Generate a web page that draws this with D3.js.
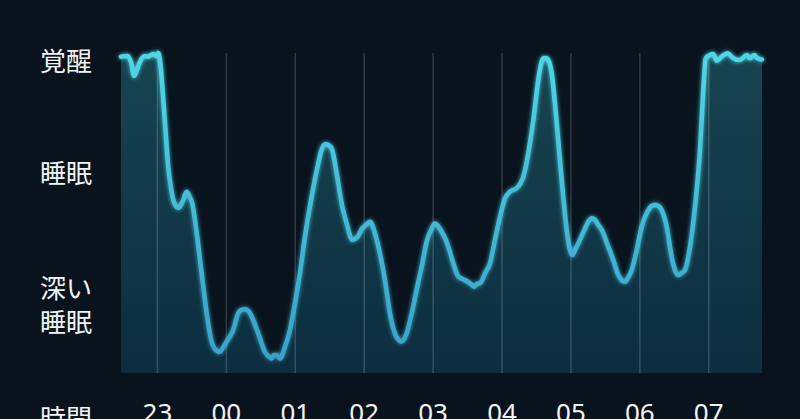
<!DOCTYPE html>
<html>
<head>
<meta charset="utf-8">
<script src="https://cdn.jsdelivr.net/npm/d3@7"></script>
<style>
  html, body { margin: 0; padding: 0; background: #08131d; overflow: hidden; }
  svg { display: block; }
</style>
</head>
<body>
<svg id="chart" width="800" height="419"></svg>
<script>
// Minutes after 22:00
const minutes = [28.7,34.7,37.4,40.2,42.6,45.2,49.6,52.4,54.8,56.8,59.1,61.1,63.5,65.2,67.0,69.8,72.2,74.2,76.5,78.5,80.9,82.9,85.9,88.3,90.7,94.6,98.9,103.3,107.6,110.5,114.9,117.4,120.7,126.4,130.8,133.6,136.6,139.7,142.5,148.2,154.0,156.7,159.9,161.9,164.2,167.1,171.5,175.8,180.2,184.5,188.9,194.7,200.5,203.2,206.3,209.3,212.1,216.5,220.8,225.2,230.1,232.4,234.7,238.7,241.9,245.5,249.8,254.1,258.5,262.9,267.2,269.8,272.5,274.6,277.4,281.8,286.1,290.5,294.8,299.2,302.1,304.7,307.9,310.8,313.7,318.0,322.4,325.6,328.2,332.6,336.3,338.7,341.3,345.7,350.0,354.3,358.7,363.0,367.4,373.2,376.1,379.0,383.3,387.7,392.0,394.4,396.4,398.7,400.8,403.7,408.1,412.4,416.8,419.2,421.7,424.0,426.9,432.7,435.8,438.6,441.4,444.3,447.3,453.0,457.4,461.7,464.5,467.5,470.1,473.4,477.7,482.1,487.8,490.6,493.6,496.7,499.4,503.8,508.1,511.0,513.9,516.7,519.7,524.1,528.5,532.8,535.7,537.8,541.5,544.4,547.3,551.7,556.9,561.8,567.6,573.5,576.3,580.1,582.4,586.8];
// Sleep level (0 = deepest, 100 = awake)
const levels = [99.8,100,98.1,93.7,95.6,98.2,100,99.8,100.3,100.6,100,101,95.6,87.7,78.9,65.1,58.4,54.6,52.7,52.1,53,54.6,57.2,55.8,53.6,44.2,31.5,18.9,9.9,7.6,6.7,7.9,9.9,13.6,18.9,19.9,20.1,19.6,17.8,12.5,6.7,5.4,4.6,5.7,5.7,4.6,8.3,13.6,22,31.5,43,55.6,66.2,70.3,72.2,71.9,70.9,63,53.5,47.2,42,42.3,43,45.6,46.7,47.7,44.1,37.8,29.3,18.8,12.5,10.7,9.9,10.4,12.5,18.8,26.2,33.5,41.4,45.6,47.2,46.4,44.6,42.6,39.8,34.6,30.4,29.7,29.3,28.3,27.2,28.1,28.3,31.5,34.6,42,49.3,55.1,57.2,58.3,59.6,61.9,69.3,79.8,92.4,97.5,99.3,99.4,98.7,94.5,78.8,60.9,45.1,39.4,37.2,38.8,40.9,45.6,47.9,48.8,48.3,46.7,45.1,39.8,35.6,30.9,29.3,28.8,30,32.5,38.8,46.2,51.4,52.7,53,52.7,51.4,46.2,36.7,32.5,30.9,31.5,32.5,39.8,52.5,70.3,89.3,99.3,100.3,100.6,98.5,99.8,100.9,99.3,98.7,100.3,99.3,100.3,99.4,98.9];

const stageLabels = [["覚醒"], ["睡眠"], ["深い", "睡眠"]];
const stageLevels = [99, 63.5, 22];
const tickHours = [23, 0, 1, 2, 3, 4, 5, 6, 7];
const axisTitle = "時間";

const base = new Date(2024, 0, 1, 22, 0, 0);
const toDate = m => new Date(base.getTime() + m * 60000);
const data = minutes.map((m, i) => ({ t: toDate(m), v: levels[i] }));

const svg = d3.select("#chart");
const W = 800, H = 419;
svg.append("rect").attr("width", W).attr("height", H).attr("fill", "#08131d");

const plotTop = 53, plotBottom = 373;
const x = d3.scaleTime()
  .domain([toDate(28.7), toDate(586.8)])
  .range([121, 762]);
const y = d3.scaleLinear().domain([0, 100]).range([373, 56]);

const defs = svg.append("defs");
const ag = defs.append("linearGradient").attr("id", "areaGrad")
  .attr("gradientUnits", "userSpaceOnUse")
  .attr("x1", 0).attr("x2", 0).attr("y1", plotTop).attr("y2", plotBottom);
ag.append("stop").attr("offset", "0%").attr("stop-color", "#17444f");
ag.append("stop").attr("offset", "100%").attr("stop-color", "#0c2d3e");

const lg = defs.append("linearGradient").attr("id", "lineGrad")
  .attr("gradientUnits", "userSpaceOnUse")
  .attr("x1", 0).attr("x2", 0).attr("y1", plotTop).attr("y2", plotBottom);
lg.append("stop").attr("offset", "0%").attr("stop-color", "#4fd6e6");
lg.append("stop").attr("offset", "100%").attr("stop-color", "#389fc6");

const glow = defs.append("filter").attr("id", "glow")
  .attr("x", "-10%").attr("y", "-10%").attr("width", "120%").attr("height", "120%");
glow.append("feGaussianBlur").attr("stdDeviation", 2.2).attr("result", "b");
const fm = glow.append("feMerge");
fm.append("feMergeNode").attr("in", "b");
fm.append("feMergeNode").attr("in", "SourceGraphic");

const area = d3.area()
  .x(d => x(d.t)).y0(plotBottom).y1(d => y(d.v))
  .curve(d3.curveMonotoneX);
const line = d3.line()
  .x(d => x(d.t)).y(d => y(d.v))
  .curve(d3.curveMonotoneX);

svg.append("path").datum(data).attr("d", area).attr("fill", "url(#areaGrad)");

// grid via axis
const tickDates = tickHours.map(h => new Date(2024, 0, h === 23 ? 1 : 2, h, 0, 0));
const axis = d3.axisBottom(x)
  .tickValues(tickDates)
  .tickFormat(d3.timeFormat("%H"))
  .tickSizeInner(-(plotBottom - plotTop))
  .tickSizeOuter(0)
  .tickPadding(0);
const ax = svg.append("g").attr("transform", `translate(0,${plotBottom})`).call(axis);
ax.select(".domain").remove();
ax.selectAll(".tick line")
  .attr("stroke", "#ffffff").attr("stroke-opacity", 0.17).attr("stroke-width", 1.5);
ax.selectAll(".tick text")
  .attr("y", 49).attr("dy", 0)
  .attr("fill", "#f2f4f5")
  .attr("font-family", "'Noto Sans', sans-serif")
  .attr("font-size", 26);

svg.append("path").datum(data).attr("d", line)
  .attr("fill", "none")
  .attr("stroke", "url(#lineGrad)")
  .attr("stroke-width", 4.5)
  .attr("stroke-linejoin", "round")
  .attr("stroke-linecap", "round")
  .attr("filter", "url(#glow)");

// stage labels
const lab = svg.append("g")
  .attr("fill", "#f2f4f5")
  .attr("font-family", "'Noto Sans CJK JP', sans-serif")
  .attr("font-size", 26);
stageLabels.forEach((lines, i) => {
  const cy = y(stageLevels[i]);
  const n = lines.length;
  lines.forEach((s, j) => {
    lab.append("text")
      .attr("x", 40)
      .attr("y", cy + (j - (n - 1) / 2) * 34)
      .attr("dominant-baseline", "central")
      .text(s);
  });
});
lab.append("text").attr("x", 40).attr("y", 416)
  .attr("dominant-baseline", "central").text(axisTitle);
</script>
</body>
</html>
